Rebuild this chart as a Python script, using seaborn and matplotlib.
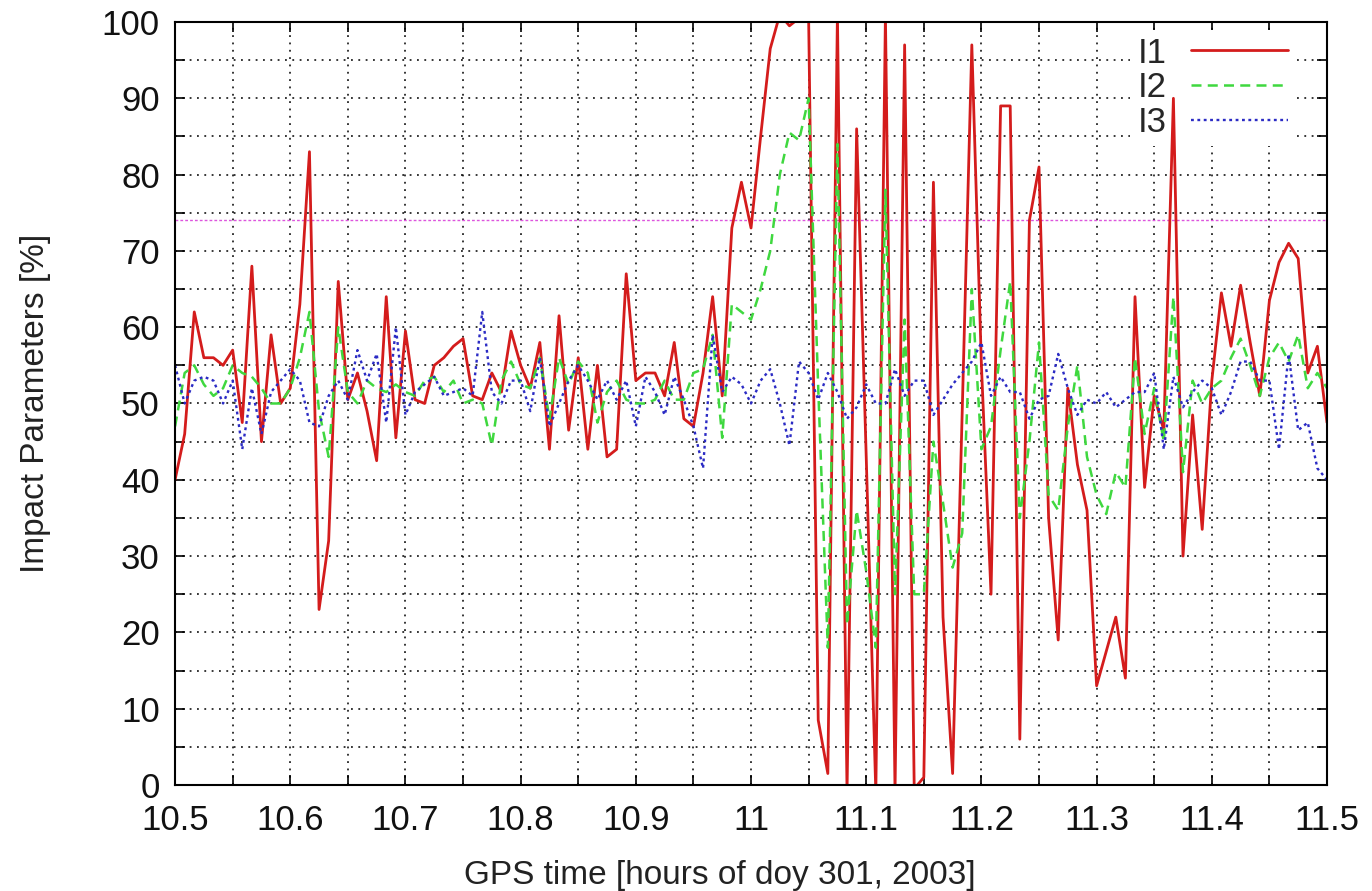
import numpy as np
import pandas as pd
import matplotlib
matplotlib.use("Agg")
import matplotlib.pyplot as plt
from matplotlib.ticker import FixedLocator, FixedFormatter, NullFormatter
import seaborn as sns

# ---------------- data ----------------
start_hour = 10.5          # GPS time of first sample [h]
sample_interval_s = 30     # sampling interval [s]

i1 = [40, 46, 62, 56, 56, 55, 57, 47.5, 68, 45,
      59, 50, 52, 63, 83, 23, 32, 66, 50.5, 54,
      49, 42.5, 64, 45.5, 59.5, 50.5, 50, 55, 56, 57.5,
      58.5, 51, 50.5, 54, 51.5, 59.5, 55, 52, 58, 44,
      61.5, 46.5, 56, 44, 55, 43, 44, 67, 53, 54,
      54, 51, 58, 48, 47, 54, 64, 51, 73, 79,
      73, 85, 96.5, 101, 99.5, 100.5, 100.5, 8.5, 1.5, 101,
      -1, 86, 43, -1, 101, -1, 97, -0.5, 1, 79,
      22, 1.5, 49, 97, 55, 25, 89, 89, 6, 74,
      81, 35, 19, 52, 42, 36, 13, 17.5, 22, 14,
      64, 39, 51, 46.5, 90, 30, 48.5, 33.5, 53, 64.5,
      57.5, 65.5, 58, 51, 63.5, 68.5, 71, 69, 54, 57.5,
      47.5]

i2 = [47, 54, 55, 52.5, 51, 52, 55, 54, 53.5, 52,
      50, 50, 52, 56, 62, 49, 43, 60, 51.5, 50,
      53, 52, 51.5, 52.5, 51.5, 51, 53, 53.5, 51.5, 53,
      50, 50.5, 50, 44.5, 53, 55.5, 52.5, 52, 56, 48,
      56, 52.5, 55.5, 54, 47.5, 51.5, 53, 50.5, 50, 50,
      50.5, 53, 50.5, 50.5, 54, 54.5, 59, 45.5, 63, 62,
      61, 65, 70, 80, 85.5, 84.5, 90, 52, 18, 84,
      21, 36, 28, 18, 78, 25, 61, 25, 25, 45,
      37, 28.5, 33, 65, 44, 47, 57, 66, 35, 45,
      58, 38, 36, 47, 55, 43, 38, 35.5, 41, 39,
      56, 46, 52, 45, 64, 41, 53, 50, 52, 53,
      56, 58.5, 55, 51, 56, 58, 55.5, 59, 52, 54,
      52]

i3 = [55, 50, 53, 53.5, 53, 50, 53, 44, 52, 46,
      51.5, 53, 54.5, 53, 47.5, 47, 51, 53, 50.5, 57,
      53, 56.5, 47.5, 60, 48.5, 51.5, 52.5, 53.5, 51, 51.5,
      52, 51, 62, 51.5, 50, 53, 53, 49, 56, 47,
      50, 53, 55, 53, 50.5, 53, 50.5, 53, 47, 53.5,
      51.5, 48.5, 53.5, 50.5, 47, 41.5, 59, 51.5, 53.5, 52.5,
      50, 53, 54.5, 50, 44.5, 55.5, 54, 50.5, 54, 51.5,
      48, 49.5, 52.5, 50, 50, 54.5, 51, 53, 53, 48.5,
      50.5, 52.5, 54, 55.5, 58, 51, 53.5, 51.5, 51.5, 48,
      50.5, 51, 56.5, 52, 48.5, 50.5, 50, 51.5, 49.5, 50.5,
      51.5, 51.5, 54, 44, 53.5, 49.5, 51.5, 53, 52, 48.5,
      51.5, 55.5, 55.5, 53, 53, 44, 56.5, 46.5, 47.5, 41.5,
      40]

threshold = 74

series_names = ["I1", "I2", "I3"]
x_tick_values = [10.5, 10.6, 10.7, 10.8, 10.9, 11.0, 11.1, 11.2, 11.3, 11.4, 11.5]
x_tick_labels = ["10.5", "10.6", "10.7", "10.8", "10.9", "11", "11.1", "11.2", "11.3", "11.4", "11.5"]
y_tick_values = [0, 10, 20, 30, 40, 50, 60, 70, 80, 90, 100]
y_tick_labels = ["0", "10", "20", "30", "40", "50", "60", "70", "80", "90", "100"]
x_minor = [10.55, 10.65, 10.75, 10.85, 10.95, 11.05, 11.15, 11.25, 11.35, 11.45]
y_minor = [5, 15, 25, 35, 45, 55, 65, 75, 85, 95]

time_h = start_hour + np.arange(len(i1)) * sample_interval_s / 3600.0

# ---------------- style ----------------
sns.set_theme(style="white")
plt.rcParams["font.family"] = ["Liberation Sans", "DejaVu Sans"]

fig = plt.figure(figsize=(13.72, 8.91), dpi=100)
ax = fig.add_axes([0.1276, 0.119, 0.8396, 0.8563])

styles = {
    "I1": dict(color="#d41c1c", linewidth=2.0, linestyle="-"),
    "I2": dict(color="#3fd83f", linewidth=1.8, linestyle=(0, (4, 2.5))),
    "I3": dict(color="#2b2bc4", linewidth=1.7, linestyle=(0, (1.2, 1.5))),
}

for name, vals in zip(series_names, [i1, i2, i3]):
    sns.lineplot(x=time_h, y=vals, ax=ax, estimator=None, sort=False,
                 label=name, zorder=3, **styles[name])

ax.axhline(threshold, color="#dd55dd", linewidth=1.0, linestyle=(0, (2, 1.5)), zorder=2.5)

ax.set_xlim(10.5, 11.5)
ax.set_ylim(0, 100)

ax.xaxis.set_major_locator(FixedLocator(x_tick_values))
ax.xaxis.set_major_formatter(FixedFormatter(x_tick_labels))
ax.xaxis.set_minor_locator(FixedLocator(x_minor))
ax.xaxis.set_minor_formatter(NullFormatter())
ax.yaxis.set_major_locator(FixedLocator(y_tick_values))
ax.yaxis.set_major_formatter(FixedFormatter(y_tick_labels))
ax.yaxis.set_minor_locator(FixedLocator(y_minor))
ax.yaxis.set_minor_formatter(NullFormatter())

grid_kw = dict(color="black", linewidth=1.1, linestyle=(0, (1.2, 3.6)))
ax.grid(True, which="both", **grid_kw)
ax.set_axisbelow(True)

ax.tick_params(which="both", direction="in", length=7, width=1.2, color="black",
               top=True, right=True, bottom=True, left=True)
ax.tick_params(axis="x", which="major", labelsize=25, pad=14, labelcolor="#111111")
ax.tick_params(axis="y", which="major", labelsize=25, pad=11, labelcolor="#111111")

for sp in ax.spines.values():
    sp.set_visible(True)
    sp.set_color("black")
    sp.set_linewidth(1.5)
    sp.set_zorder(4)

ax.set_xlabel("GPS time [hours of doy 301, 2003]", fontsize=24, color="#222222")
ax.set_ylabel("Impact Parameters [%]", fontsize=24, color="#222222")
ax.xaxis.set_label_coords(0.473, -0.098)
ax.yaxis.set_label_coords(-0.108, 0.5)

leg = ax.legend(loc="upper right", bbox_to_anchor=(0.972, 0.99), markerfirst=False,
                frameon=True, fancybox=False, framealpha=1.0, facecolor="white",
                edgecolor="none", fontsize=25, handlelength=2.8, handletextpad=0.7,
                labelspacing=0.05, borderpad=0.2, borderaxespad=0.0)
leg.set_zorder(2)

fig.savefig("out.png", dpi=100)
